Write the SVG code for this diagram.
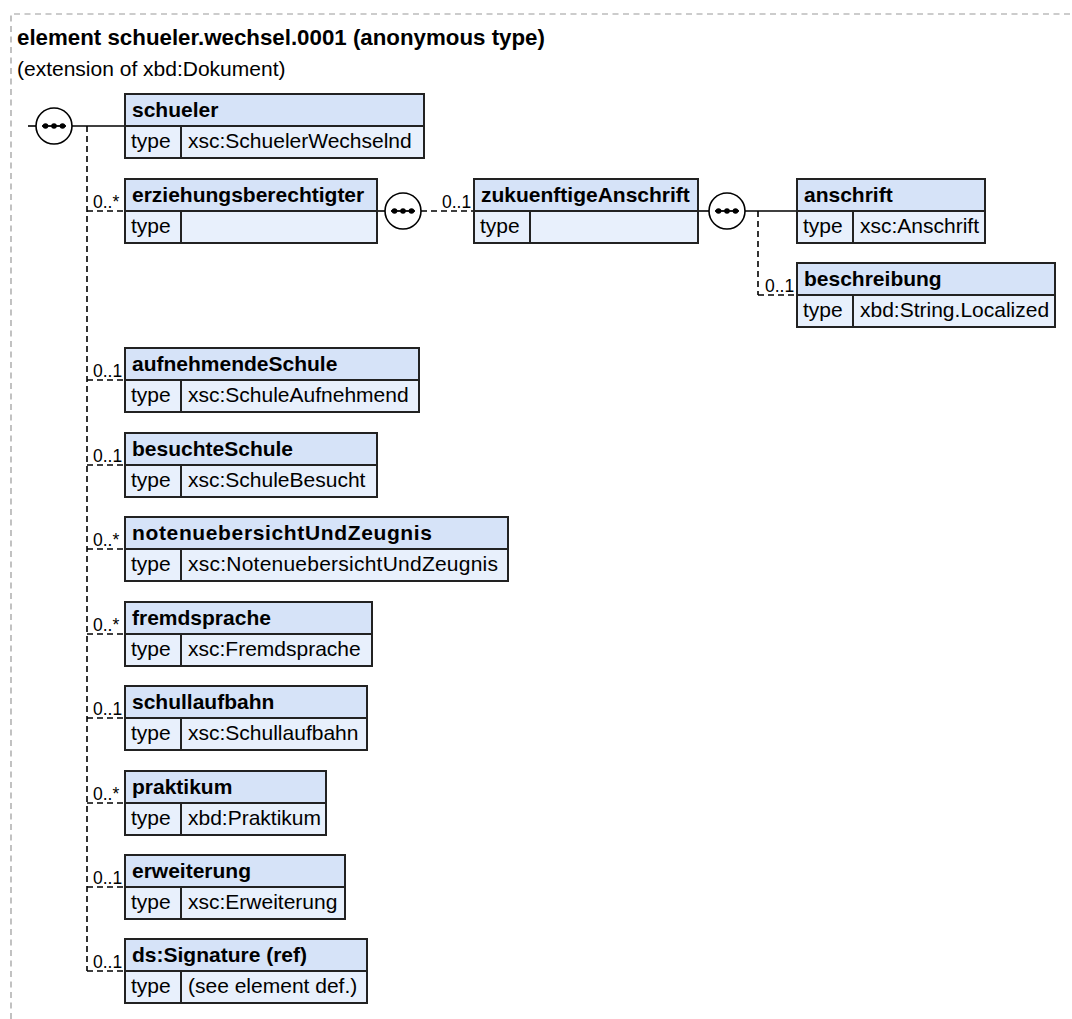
<svg xmlns="http://www.w3.org/2000/svg" width="1072" height="1019" viewBox="0 0 1072 1019">
<style>
text{font-family:"Liberation Sans",Arial,sans-serif;fill:#000}
.title{font-size:22.3px;font-weight:bold}
.sub{font-size:21px}
.hd{font-size:21px;font-weight:bold}
.tx{font-size:21px}
.card{font-size:17.5px}
.hdr{fill:#d6e3f8}
.row{fill:#e8f0fc}
.frame{fill:none;stroke:#222;stroke-width:2}
.sep{stroke:#222;stroke-width:2}
.solid{stroke:#000;stroke-width:1.6;fill:none}
.dash{stroke:#000;stroke-width:1.6;fill:none;stroke-dasharray:6,4}
.border{stroke:#999;stroke-width:1.2;fill:none;stroke-dasharray:6,4.5}
.seq{fill:#fff;stroke:#000;stroke-width:1.6}
</style>
<defs>
<g id="seqicon">
<circle class="seq" cx="0" cy="0" r="18"/>
<line x1="-12" y1="0" x2="12" y2="0" stroke="#000" stroke-width="1.8"/>
<circle cx="-8.5" cy="0" r="2.8" fill="#000"/>
<circle cx="0" cy="0" r="2.8" fill="#000"/>
<circle cx="8.5" cy="0" r="2.8" fill="#000"/>
</g>
</defs>
<rect width="1072" height="1019" fill="#fff"/>
<path class="border" d="M11,1019 V14 H1072"/>
<text class="title" x="17" y="45">element schueler.wechsel.0001 (anonymous type)</text>
<text class="sub" x="17" y="76">(extension of xbd:Dokument)</text>

<g id="connectors">
<line class="solid" x1="28" y1="126" x2="36" y2="126"/>
<line class="solid" x1="72" y1="126" x2="125" y2="126"/>
<line class="dash" x1="87" y1="126" x2="87" y2="971"/>
<line class="dash" x1="87" y1="211" x2="125" y2="211"/>
<line class="dash" x1="87" y1="380" x2="125" y2="380"/>
<line class="dash" x1="87" y1="465" x2="125" y2="465"/>
<line class="dash" x1="87" y1="549" x2="125" y2="549"/>
<line class="dash" x1="87" y1="634" x2="125" y2="634"/>
<line class="dash" x1="87" y1="718" x2="125" y2="718"/>
<line class="dash" x1="87" y1="803" x2="125" y2="803"/>
<line class="dash" x1="87" y1="887" x2="125" y2="887"/>
<line class="dash" x1="87" y1="971" x2="125" y2="971"/>
<line class="solid" x1="377" y1="211" x2="385" y2="211"/>
<line class="dash" x1="421" y1="211" x2="474" y2="211"/>
<line class="solid" x1="698" y1="211" x2="709" y2="211"/>
<line class="solid" x1="745" y1="211" x2="797" y2="211"/>
<line class="dash" x1="758" y1="211" x2="758" y2="295"/>
<line class="dash" x1="758" y1="295" x2="797" y2="295"/>
<text class="card" x="93" y="208">0..*</text>
<text class="card" x="93" y="377">0..1</text>
<text class="card" x="93" y="462">0..1</text>
<text class="card" x="93" y="546">0..*</text>
<text class="card" x="93" y="631">0..*</text>
<text class="card" x="93" y="715">0..1</text>
<text class="card" x="93" y="800">0..*</text>
<text class="card" x="93" y="884">0..1</text>
<text class="card" x="93" y="968">0..1</text>
<text class="card" x="442" y="208">0..1</text>
<text class="card" x="765" y="292">0..1</text>
</g>

<g id="seq-main"><use href="#seqicon" x="54" y="126"/></g>
<g id="seq-erziehungsberechtigter"><use href="#seqicon" x="403" y="211"/></g>
<g id="seq-zukuenftigeAnschrift"><use href="#seqicon" x="727" y="211"/></g>

<g id="node-schueler">
<rect class="hdr" x="125" y="94" width="299" height="32"/><rect class="row" x="125" y="126" width="299" height="32"/>
<rect class="frame" x="125" y="94" width="299" height="64"/><line class="sep" x1="125" y1="126" x2="424" y2="126"/><line class="sep" x1="181" y1="126" x2="181" y2="158"/>
<text class="hd" x="132" y="117">schueler</text><text class="tx" x="131" y="148">type</text><text class="tx" x="188" y="148">xsc:SchuelerWechselnd</text>
</g>

<g id="node-erziehungsberechtigter">
<rect class="hdr" x="125" y="179" width="252" height="32"/><rect class="row" x="125" y="211" width="252" height="32"/>
<rect class="frame" x="125" y="179" width="252" height="64"/><line class="sep" x1="125" y1="211" x2="377" y2="211"/><line class="sep" x1="181" y1="211" x2="181" y2="243"/>
<text class="hd" x="132" y="202">erziehungsberechtigter</text><text class="tx" x="131" y="233">type</text>
</g>

<g id="node-zukuenftigeAnschrift">
<rect class="hdr" x="474" y="179" width="224" height="32"/><rect class="row" x="474" y="211" width="224" height="32"/>
<rect class="frame" x="474" y="179" width="224" height="64"/><line class="sep" x1="474" y1="211" x2="698" y2="211"/><line class="sep" x1="530" y1="211" x2="530" y2="243"/>
<text class="hd" x="481" y="202">zukuenftigeAnschrift</text><text class="tx" x="480" y="233">type</text>
</g>

<g id="node-anschrift">
<rect class="hdr" x="797" y="179" width="188" height="32"/><rect class="row" x="797" y="211" width="188" height="32"/>
<rect class="frame" x="797" y="179" width="188" height="64"/><line class="sep" x1="797" y1="211" x2="985" y2="211"/><line class="sep" x1="853" y1="211" x2="853" y2="243"/>
<text class="hd" x="804" y="202">anschrift</text><text class="tx" x="803" y="233">type</text><text class="tx" x="860" y="233">xsc:Anschrift</text>
</g>

<g id="node-beschreibung">
<rect class="hdr" x="797" y="263" width="258" height="32"/><rect class="row" x="797" y="295" width="258" height="32"/>
<rect class="frame" x="797" y="263" width="258" height="64"/><line class="sep" x1="797" y1="295" x2="1055" y2="295"/><line class="sep" x1="853" y1="295" x2="853" y2="327"/>
<text class="hd" x="804" y="286">beschreibung</text><text class="tx" x="803" y="317">type</text><text class="tx" x="860" y="317">xbd:String.Localized</text>
</g>

<g id="node-aufnehmendeSchule">
<rect class="hdr" x="125" y="348" width="294" height="32"/><rect class="row" x="125" y="380" width="294" height="32"/>
<rect class="frame" x="125" y="348" width="294" height="64"/><line class="sep" x1="125" y1="380" x2="419" y2="380"/><line class="sep" x1="181" y1="380" x2="181" y2="412"/>
<text class="hd" x="132" y="371">aufnehmendeSchule</text><text class="tx" x="131" y="402">type</text><text class="tx" x="188" y="402">xsc:SchuleAufnehmend</text>
</g>

<g id="node-besuchteSchule">
<rect class="hdr" x="125" y="433" width="252" height="32"/><rect class="row" x="125" y="465" width="252" height="32"/>
<rect class="frame" x="125" y="433" width="252" height="64"/><line class="sep" x1="125" y1="465" x2="377" y2="465"/><line class="sep" x1="181" y1="465" x2="181" y2="497"/>
<text class="hd" x="132" y="456">besuchteSchule</text><text class="tx" x="131" y="487">type</text><text class="tx" x="188" y="487">xsc:SchuleBesucht</text>
</g>

<g id="node-notenuebersichtUndZeugnis">
<rect class="hdr" x="125" y="517" width="383" height="32"/><rect class="row" x="125" y="549" width="383" height="32"/>
<rect class="frame" x="125" y="517" width="383" height="64"/><line class="sep" x1="125" y1="549" x2="508" y2="549"/><line class="sep" x1="181" y1="549" x2="181" y2="581"/>
<text class="hd" x="132" y="540" textLength="300" lengthAdjust="spacing">notenuebersichtUndZeugnis</text><text class="tx" x="131" y="571">type</text><text class="tx" x="188" y="571" textLength="310" lengthAdjust="spacing">xsc:NotenuebersichtUndZeugnis</text>
</g>

<g id="node-fremdsprache">
<rect class="hdr" x="125" y="602" width="247" height="32"/><rect class="row" x="125" y="634" width="247" height="32"/>
<rect class="frame" x="125" y="602" width="247" height="64"/><line class="sep" x1="125" y1="634" x2="372" y2="634"/><line class="sep" x1="181" y1="634" x2="181" y2="666"/>
<text class="hd" x="132" y="625">fremdsprache</text><text class="tx" x="131" y="656">type</text><text class="tx" x="188" y="656">xsc:Fremdsprache</text>
</g>

<g id="node-schullaufbahn">
<rect class="hdr" x="125" y="686" width="242" height="32"/><rect class="row" x="125" y="718" width="242" height="32"/>
<rect class="frame" x="125" y="686" width="242" height="64"/><line class="sep" x1="125" y1="718" x2="367" y2="718"/><line class="sep" x1="181" y1="718" x2="181" y2="750"/>
<text class="hd" x="132" y="709">schullaufbahn</text><text class="tx" x="131" y="740">type</text><text class="tx" x="188" y="740">xsc:Schullaufbahn</text>
</g>

<g id="node-praktikum">
<rect class="hdr" x="125" y="771" width="201" height="32"/><rect class="row" x="125" y="803" width="201" height="32"/>
<rect class="frame" x="125" y="771" width="201" height="64"/><line class="sep" x1="125" y1="803" x2="326" y2="803"/><line class="sep" x1="181" y1="803" x2="181" y2="835"/>
<text class="hd" x="132" y="794">praktikum</text><text class="tx" x="131" y="825">type</text><text class="tx" x="188" y="825">xbd:Praktikum</text>
</g>

<g id="node-erweiterung">
<rect class="hdr" x="125" y="855" width="220" height="32"/><rect class="row" x="125" y="887" width="220" height="32"/>
<rect class="frame" x="125" y="855" width="220" height="64"/><line class="sep" x1="125" y1="887" x2="345" y2="887"/><line class="sep" x1="181" y1="887" x2="181" y2="919"/>
<text class="hd" x="132" y="878">erweiterung</text><text class="tx" x="131" y="909">type</text><text class="tx" x="188" y="909">xsc:Erweiterung</text>
</g>

<g id="node-dsSignature">
<rect class="hdr" x="125" y="939" width="242" height="32"/><rect class="row" x="125" y="971" width="242" height="32"/>
<rect class="frame" x="125" y="939" width="242" height="64"/><line class="sep" x1="125" y1="971" x2="367" y2="971"/><line class="sep" x1="181" y1="971" x2="181" y2="1003"/>
<text class="hd" x="132" y="962">ds:Signature (ref)</text><text class="tx" x="131" y="993">type</text><text class="tx" x="188" y="993">(see element def.)</text>
</g>
</svg>
